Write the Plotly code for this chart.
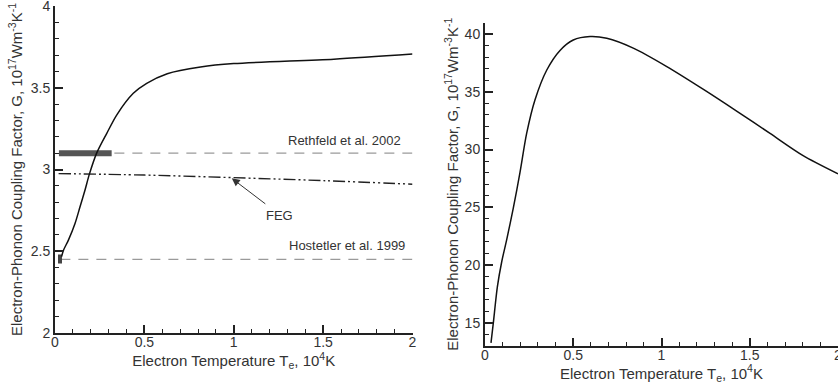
import plotly.graph_objects as go

# ---------------- data ----------------
# Left panel: electron-phonon coupling factor (10^17 W m^-3 K^-1) vs Te (10^4 K)
te_left = [0.037, 0.047, 0.075, 0.112, 0.14, 0.168, 0.192, 0.233, 0.289, 0.345,
           0.438, 0.513, 0.628, 0.814, 1.0, 1.56, 2.0]
g_left = [2.467, 2.505, 2.568, 2.67, 2.772, 2.875, 2.97, 3.10, 3.22, 3.333,
          3.466, 3.527, 3.586, 3.627, 3.648, 3.675, 3.706]

te_feg = [0.02, 0.5, 1.0, 1.5, 2.0]
g_feg = [2.975, 2.966, 2.95, 2.932, 2.91]

rethfeld_g = 3.1
rethfeld_range = [0.022, 0.317]
hostetler_g = 2.45
hostetler_te = 0.028
hostetler_range = [2.425, 2.48]
ref_te_span = [0.03, 2.0]

# Right panel
te_right = [0.034, 0.047, 0.070, 0.095, 0.123, 0.16, 0.198, 0.236, 0.283, 0.35,
            0.425, 0.50, 0.595, 0.69, 0.84, 1.03, 1.24, 1.43, 1.615, 1.80, 2.0]
g_right = [13.25, 14.95, 18.1, 20.3, 22.2, 24.9, 28.0, 31.4, 34.3, 36.9,
           38.6, 39.5, 39.8, 39.65, 38.8, 37.2, 35.2, 33.3, 31.4, 29.5, 27.9]

x_ticks = [0, 0.5, 1, 1.5, 2]
x_ticklabels = ["0", "0.5", "1", "1.5", "2"]
yl_ticks = [2, 2.5, 3, 3.5, 4]
yl_ticklabels = ["2", "2.5", "3", "3.5", "4"]
yr_ticks = [15, 20, 25, 30, 35, 40]

# ---------------- figure ----------------
FONT = "Liberation Sans, Arial, Helvetica, sans-serif"
TXT = "#333333"
AX = "#222222"

fig = go.Figure()

# reference dashed lines
fig.add_trace(go.Scatter(x=ref_te_span, y=[rethfeld_g, rethfeld_g], mode="lines",
                         line=dict(color="#9a9a9a", width=1.2, dash="10px,8px"),
                         xaxis="x", yaxis="y", showlegend=False, hoverinfo="skip"))
fig.add_trace(go.Scatter(x=ref_te_span, y=[hostetler_g, hostetler_g], mode="lines",
                         line=dict(color="#9a9a9a", width=1.2, dash="10px,8px"),
                         xaxis="x", yaxis="y", showlegend=False, hoverinfo="skip"))
# Rethfeld thick bar
fig.add_trace(go.Scatter(x=rethfeld_range, y=[rethfeld_g, rethfeld_g], mode="lines",
                         line=dict(color="#555555", width=6),
                         xaxis="x", yaxis="y", showlegend=False, hoverinfo="skip"))
# Hostetler small bar
fig.add_trace(go.Scatter(x=[hostetler_te, hostetler_te], y=hostetler_range, mode="lines",
                         line=dict(color="#444444", width=4),
                         xaxis="x", yaxis="y", showlegend=False, hoverinfo="skip"))
# FEG dash-dot-dot
fig.add_trace(go.Scatter(x=te_feg, y=g_feg, mode="lines", line_shape="spline",
                         line=dict(color="#222222", width=1.4, dash="12px,3px,2px,3px,2px,3px"),
                         xaxis="x", yaxis="y", showlegend=False, hoverinfo="skip"))
# main curve left
fig.add_trace(go.Scatter(x=te_left, y=g_left, mode="lines", line_shape="spline",
                         line=dict(color="#111111", width=1.5, smoothing=0.8),
                         xaxis="x", yaxis="y", showlegend=False))
# main curve right
fig.add_trace(go.Scatter(x=te_right, y=g_right, mode="lines", line_shape="spline",
                         line=dict(color="#111111", width=1.5, smoothing=0.8),
                         xaxis="x2", yaxis="y2", showlegend=False))

ytitle = "Electron-Phonon Coupling Factor, G, 10<sup>17</sup>Wm<sup>-3</sup>K<sup>-1</sup>"
xtitle = "Electron Temperature T<sub>e</sub>, 10<sup>4</sup>K"

common_axis = dict(showline=True, linecolor=AX, linewidth=2, ticks="inside",
                   ticklen=8, tickwidth=2, tickcolor=AX, showgrid=False, zeroline=False,
                   mirror=False, automargin=False, ticklabeloverflow="allow",
                   tickfont=dict(family=FONT, size=14, color=TXT))
TFONT = dict(family=FONT, size=15, color=TXT)

fig.update_layout(
    width=838, height=387,
    margin=dict(l=0, r=0, t=0, b=0),
    paper_bgcolor="white", plot_bgcolor="white",
    font=dict(family=FONT, color=TXT),
    xaxis=dict(domain=[55 / 838, 412.5 / 838], range=[0, 2], anchor="y",
               tickvals=x_ticks, ticktext=x_ticklabels, ticklabelstandoff=-5,
               minor=dict(ticks="inside", ticklen=4, tickwidth=1, dtick=0.1, tickcolor=AX),
               title=dict(text=xtitle, font=TFONT, standoff=1),
               **common_axis),
    yaxis=dict(domain=[1 - 333 / 387, 1 - 6 / 387], range=[2, 4], anchor="x",
               tickvals=yl_ticks, ticktext=yl_ticklabels,
               minor=dict(ticks="inside", ticklen=4, tickwidth=1, dtick=0.1, tickcolor=AX),
               title=dict(text=ytitle, font=TFONT, standoff=4),
               **common_axis),
    xaxis2=dict(domain=[485 / 838, 1.0], range=[0, 2], anchor="y2",
                tickvals=x_ticks, ticktext=x_ticklabels, ticklabelstandoff=-5,
                minor=dict(ticks="inside", ticklen=4, tickwidth=1, dtick=0.1, tickcolor=AX),
                title=dict(text=xtitle, font=TFONT, standoff=1),
                **common_axis),
    yaxis2=dict(domain=[1 - 345.7 / 387, 1 - 22.7 / 387], range=[13, 41], anchor="x2",
                tickvals=yr_ticks,
                minor=dict(ticks="inside", ticklen=4, tickwidth=1, dtick=1, tickcolor=AX),
                title=dict(text=ytitle, font=TFONT, standoff=2),
                **common_axis),
)

fig.add_annotation(x=1.948, y=3.176, xref="x", yref="y", text="Rethfeld et al. 2002",
                   showarrow=False, xanchor="right", yanchor="middle",
                   font=dict(family=FONT, size=13, color=TXT))
fig.add_annotation(x=1.97, y=2.538, xref="x", yref="y", text="Hostetler et al. 1999",
                   showarrow=False, xanchor="right", yanchor="middle",
                   font=dict(family=FONT, size=13, color=TXT))
fig.add_annotation(x=1.254, y=2.716, xref="x", yref="y", text="FEG",
                   showarrow=False, xanchor="center", yanchor="middle",
                   font=dict(family=FONT, size=13, color=TXT))
fig.add_annotation(x=0.989, y=2.946, xref="x", yref="y", ax=1.185, ay=2.783,
                   axref="x", ayref="y", text="", showarrow=True,
                   arrowhead=2, arrowsize=1.6, arrowwidth=1, arrowcolor="#333333")

# remove the browser's default 8px body margin so the figure sits at the page origin
fig.write_html("out.html", config={"displayModeBar": False},
               post_script="document.body.style.margin='0';")
